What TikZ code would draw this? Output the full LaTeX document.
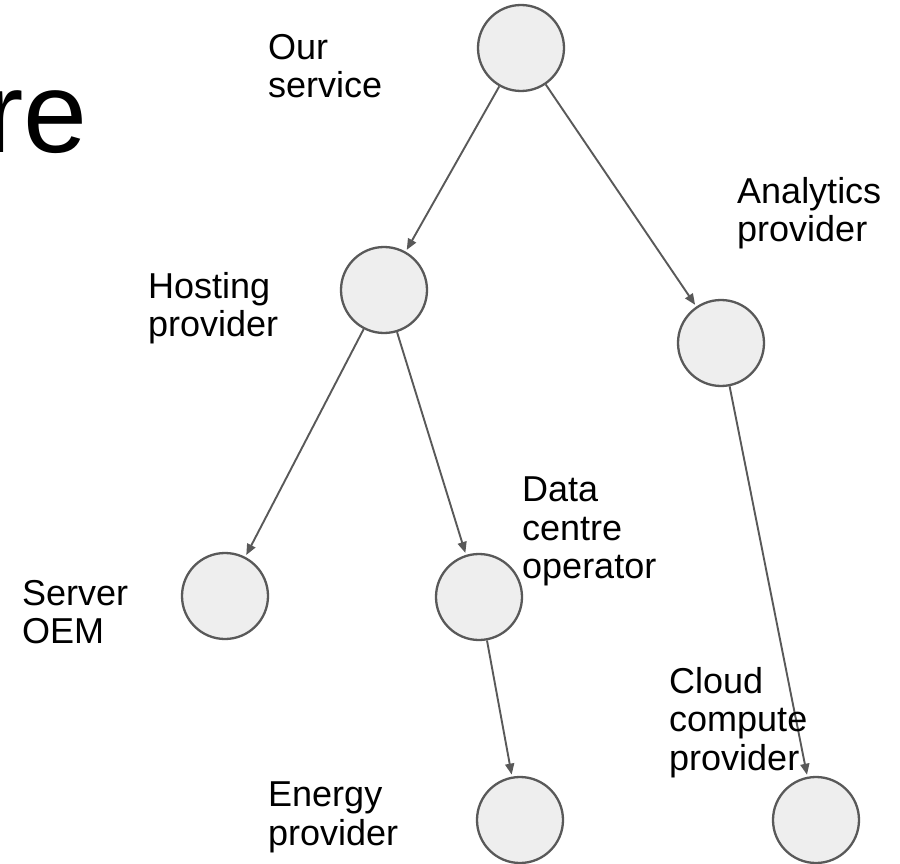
\documentclass[tikz,border=0pt]{standalone}
\usepackage{fontspec}
\setmainfont{Liberation Sans}
\usetikzlibrary{arrows.meta}
\definecolor{edgegray}{HTML}{595959}
\definecolor{nodefill}{HTML}{EEEEEE}
\begin{document}
\begin{tikzpicture}[x=1pt,y=-1pt]
\tikzstyle{party}=[circle, draw=edgegray, fill=nodefill, line width=2.3pt, minimum size=86pt, inner sep=0pt]
\tikzstyle{dep}=[draw=edgegray, line width=1.9pt, -{Triangle[length=11pt,width=9pt]}, shorten >=2pt]
\tikzstyle{lbl}=[anchor=north west, align=left, inner sep=0pt, font=\fontsize{36}{38.5}\selectfont]

\useasboundingbox (0,0) rectangle (900,864);

% cut-off title
\node [anchor=base west, inner sep=0pt, font=\fontsize{115}{115}\selectfont] (title) at (-15,153) {re};

% the supply chain
\node [party] (ours) at (521,48) {};
\node [party] (hosting) at (384,290) {};
\node [party] (analytics) at (721,343) {};
\node [party] (oem) at (225,596) {};
\node [party] (datacentre) at (479,597) {};
\node [party] (energy) at (520,820) {};
\node [party] (cloud) at (816,820) {};

\draw [dep] (ours) -- (hosting);
\draw [dep] (ours) -- (analytics);
\draw [dep] (hosting) -- (oem);
\draw [dep] (hosting) -- (datacentre);
\draw [dep] (datacentre) -- (energy);
\draw [dep] (analytics) -- (cloud);

% labels
\node [lbl] (oursl) at (268,34) {Our\\service};
\node [lbl] (analyticsl) at (737,177) {Analytics\\provider};
\node [lbl] (hostingl) at (148,272) {Hosting\\provider};
\node [lbl] (datacentrel) at (522,477) {Data\\centre\\operator};
\node [lbl] (oeml) at (22,580) {Server\\OEM};
\node [lbl] (cloudl) at (669,667) {Cloud\\compute\\provider};
\node [lbl] (energyl) at (268,782) {Energy\\provider};

\end{tikzpicture}
\end{document}
